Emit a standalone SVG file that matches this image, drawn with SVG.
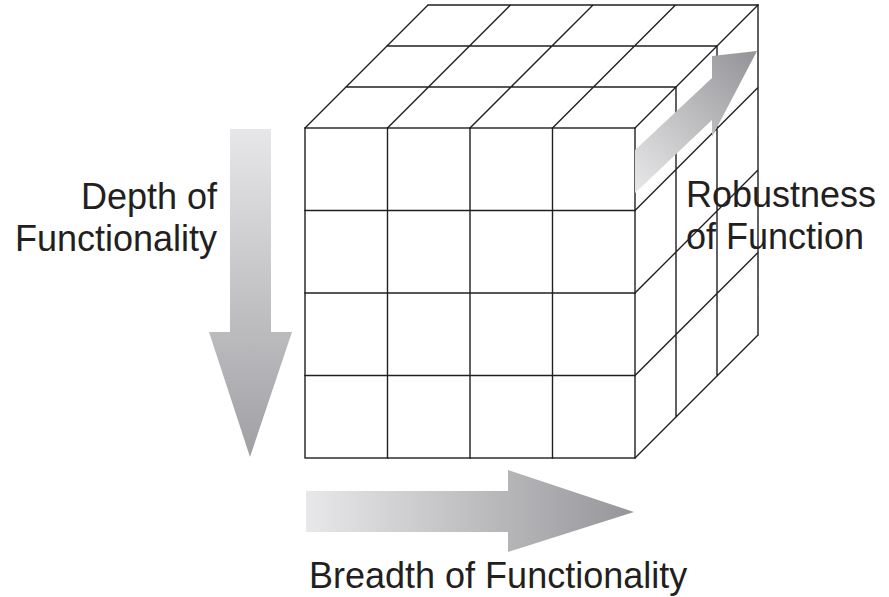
<svg xmlns="http://www.w3.org/2000/svg" width="889" height="597" viewBox="0 0 889 597">
<style>
.ln{stroke:#231f20;stroke-width:1.4;fill:none;stroke-linecap:square}
.lbl{font-family:"Liberation Sans",Arial,Helvetica,sans-serif;font-size:36px;fill:#231f20}
</style>
<defs>
<linearGradient id="gDown" gradientUnits="userSpaceOnUse" x1="0" y1="129" x2="0" y2="457">
<stop offset="0" stop-color="#e7e7e9"/><stop offset="1" stop-color="#a0a0a4"/>
</linearGradient>
<linearGradient id="gRight" gradientUnits="userSpaceOnUse" x1="306" y1="0" x2="634" y2="0">
<stop offset="0" stop-color="#e8e8ea"/><stop offset="1" stop-color="#96969a"/>
</linearGradient>
<linearGradient id="gDiag" gradientUnits="userSpaceOnUse" x1="635" y1="185" x2="757" y2="60">
<stop offset="0" stop-color="#e6e6e8"/><stop offset="1" stop-color="#96969a"/>
</linearGradient>
</defs>
<rect width="889" height="597" fill="#ffffff"/>
<g id="cube">
<polygon points="305,128 635,128 758,5 428,5" fill="#fff"/>
<polygon points="635,128 758,5 758,335 635,458" fill="#fff"/>
<rect x="305" y="128" width="330" height="330" fill="#fff" class="ln"/>
<path class="ln" d="M387.5,128V458M470,128V458M552.5,128V458M305,210.5H635M305,293H635M305,375.5H635"/>
<path class="ln" d="M305,128L428,5M387.5,128L510.5,5M470,128L593,5M552.5,128L675.5,5M635,128L758,5M346,87H676M387,46H717M428,5H758"/>
<path class="ln" d="M635,210.5L758,87.5M635,293L758,170M635,375.5L758,252.5M635,458L758,335M676,87V417M717,46V376M758,5V335"/>
</g>
<g id="arrow-robustness">
<polygon points="635,150 712,78 712,56 757,51 712,137 712,120 635,193" fill="url(#gDiag)"/>
</g>
<g id="arrow-depth">
<polygon points="230,129 271,129 271,332 292,332 250,457 209,332 230,332" fill="url(#gDown)"/>
</g>
<g id="arrow-breadth">
<polygon points="306,491 508,491 508,470 634,512 508,552 508,532 306,532" fill="url(#gRight)"/>
</g>
<g id="label-depth">
<text class="lbl" x="217" y="209" text-anchor="end">Depth of</text>
<text class="lbl" x="217" y="251" text-anchor="end">Functionality</text>
</g>
<g id="label-robustness">
<text class="lbl" x="686" y="207">Robustness</text>
<text class="lbl" x="686" y="249">of Function</text>
</g>
<g id="label-breadth">
<text class="lbl" x="309" y="588">Breadth of Functionality</text>
</g>
</svg>
